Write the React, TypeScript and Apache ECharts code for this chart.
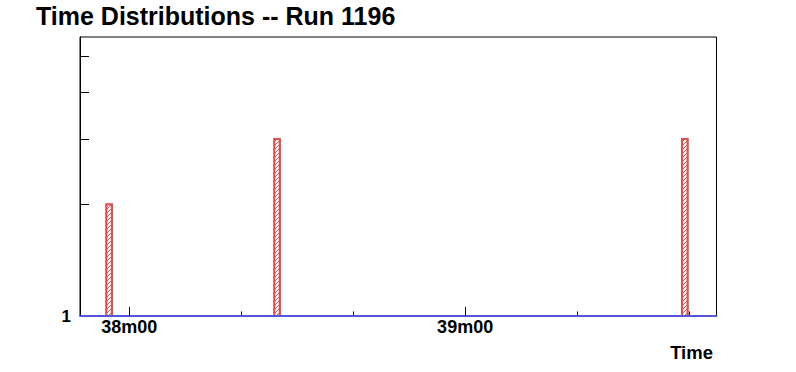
import React, { useEffect, useRef } from "react";
import * as echarts from "echarts";

// Histogram bins (time in seconds since start of hour; 2280 s = 38m00)
const binStarts = [2275.9, 2305.9, 2378.75];
const binWidth = 1.0;
const binCounts = [2, 3, 3];

const xMin = 2271.2;
const xMax = 2384.9;
const yMin = 1;
const yMax = 5.65;

const majorTicks = [2280, 2340];
const minorTicks = [2300, 2320, 2360, 2380];
const yTicks = [2, 3, 4, 5];
const yLabels = [1];

const RED = "#dc5252";
const BLUE = "#5656d8";
const FONT = "'Liberation Sans', Arial, Helvetica, sans-serif";

function fmtTime(v: number): string {
  const m = Math.floor(v / 60);
  const s = Math.round(v - m * 60);
  return `${m}m${s < 10 ? "0" + s : s}`;
}

function makePattern(): any {
  const c = document.createElement("canvas");
  c.width = 4;
  c.height = 4;
  const ctx = c.getContext("2d")!;
  ctx.fillStyle = "#ffffff";
  ctx.fillRect(0, 0, 4, 4);
  ctx.fillStyle = RED;
  for (let i = 0; i < 4; i++) ctx.fillRect(i, 3 - i, 1, 1);
  return { image: c, repeat: "repeat" };
}

export default function App() {
  const ref = useRef<HTMLDivElement>(null);
  useEffect(() => {
    document.body.style.margin = "0";
    if (!ref.current) return;
    const chart = echarts.init(ref.current, undefined, { renderer: "svg" });
    const pattern = makePattern();
    const data = binStarts.map((s, i) => [s, s + binWidth, binCounts[i]]);
    chart.setOption({
      animation: false,
      backgroundColor: "#ffffff",
      grid: {
        left: 80,
        right: 79.5,
        top: 37,
        bottom: 56,
        show: true,
        borderColor: "#000000",
        borderWidth: 1,
        backgroundColor: "transparent",
      },
      graphic: [
        {
          type: "text",
          left: 36,
          top: 3,
          style: {
            text: "Time Distributions -- Run 1196",
            fontFamily: FONT,
            fontWeight: "bold",
            fontSize: 25,
            fill: "#000",
          },
        },
        {
          type: "text",
          right: 83,
          top: 343,
          style: {
            text: "Time",
            fontFamily: FONT,
            fontWeight: "bold",
            fontSize: 18.5,
            fill: "#000",
          },
        },
      ],
      xAxis: [
        {
          type: "value",
          min: xMin,
          max: xMax,
          position: "bottom",
          z: 5,
          axisLine: { show: true, lineStyle: { color: BLUE, width: 2 } },
          axisTick: {
            show: true,
            inside: true,
            length: 9,
            customValues: majorTicks,
            lineStyle: { color: "#000", width: 1 },
          },
          axisLabel: {
            show: true,
            customValues: majorTicks,
            formatter: (v: number) => fmtTime(v),
            fontFamily: FONT,
            fontWeight: "bold",
            fontSize: 18,
            color: "#000",
            margin: 2,
          },
          splitLine: { show: false },
        },
        {
          type: "value",
          min: xMin,
          max: xMax,
          position: "bottom",
          z: 4,
          axisLine: { show: false },
          axisTick: {
            show: true,
            inside: true,
            length: 4.5,
            customValues: minorTicks,
            lineStyle: { color: "#000", width: 1 },
          },
          axisLabel: { show: false },
          splitLine: { show: false },
        },
      ],
      yAxis: {
        type: "log",
        logBase: 10,
        min: yMin,
        max: yMax,
        axisLine: { show: true, lineStyle: { color: "#000", width: 1 } },
        axisTick: {
          show: true,
          inside: true,
          length: 9,
          customValues: yTicks,
          lineStyle: { color: "#000", width: 1 },
        },
        axisLabel: {
          show: true,
          customValues: yLabels,
          fontFamily: FONT,
          fontWeight: "bold",
          fontSize: 17,
          color: "#000",
          margin: 9,
        },
        splitLine: { show: false },
      },
      series: [
        {
          type: "custom",
          xAxisIndex: 0,
          yAxisIndex: 0,
          encode: { x: [0, 1], y: 2 },
          data,
          renderItem: (params: any, api: any) => {
            const s = api.value(0);
            const e = api.value(1);
            const v = api.value(2);
            const p0 = api.coord([s, v]);
            const p1 = api.coord([e, yMin]);
            return {
              type: "rect",
              shape: {
                x: p0[0],
                y: p0[1],
                width: p1[0] - p0[0],
                height: p1[1] - p0[1],
              },
              style: { fill: pattern, stroke: RED, lineWidth: 2.2 },
            };
          },
        },
      ],
    });
    return () => chart.dispose();
  }, []);
  return <div ref={ref} style={{ width: 796, height: 372 }} />;
}
